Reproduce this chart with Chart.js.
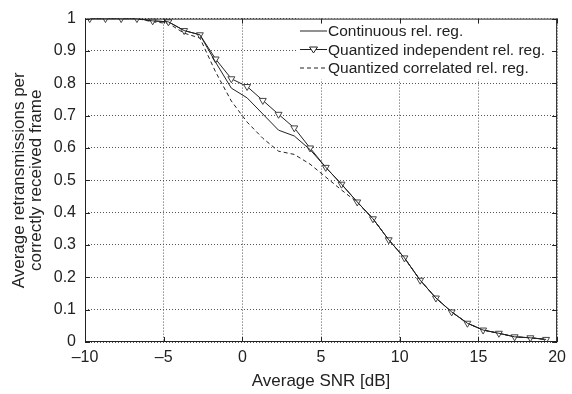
<!DOCTYPE html>
<html>
<head>
<meta charset="utf-8">
<script src="https://cdn.jsdelivr.net/npm/chart.js@4/dist/chart.umd.min.js"></script>
<style>
  body { margin: 0; background: #fff; }
  #wrap { width: 572px; height: 394px; }
</style>
</head>
<body>
<div id="wrap"><canvas id="chart" width="572" height="394"></canvas></div>
<script>
// SNR points [dB]
const snr = [-9.7, -8.7, -7.7, -6.7, -5.7, -4.7, -3.7, -2.7, -1.7, -0.7,
  0.3, 1.3, 2.3, 3.3, 4.3, 5.3, 6.3, 7.3, 8.3, 9.3,
  10.3, 11.3, 12.3, 13.3, 14.3, 15.3, 16.3, 17.3, 18.3, 19.3];

const continuous = [1, 1, 1, 1, 0.993, 0.99, 0.963, 0.95, 0.865, 0.785,
  0.755, 0.705, 0.655, 0.637, 0.595, 0.54, 0.488, 0.433, 0.381, 0.316,
  0.26, 0.191, 0.136, 0.093, 0.058, 0.037, 0.027, 0.016, 0.013, 0.008];

const quantIndep = [1, 1, 1, 1, 0.993, 0.99, 0.963, 0.95, 0.875, 0.814,
  0.79, 0.747, 0.704, 0.662, 0.6, 0.54, 0.488, 0.433, 0.381, 0.316,
  0.26, 0.191, 0.136, 0.093, 0.058, 0.037, 0.027, 0.016, 0.013, 0.008];

const quantCorr = [1, 1, 1, 1, 0.99, 0.985, 0.955, 0.94, 0.835, 0.745,
  0.68, 0.63, 0.59, 0.58, 0.55, 0.51, 0.47, 0.432, 0.381, 0.316,
  0.26, 0.191, 0.136, 0.093, 0.058, 0.037, 0.027, 0.016, 0.013, 0.008];

const seriesNames = ['Continuous rel. reg.', 'Quantized independent rel. reg.', 'Quantized correlated rel. reg.'];
const xTicks = [-10, -5, 0, 5, 10, 15, 20];
const yTicks = [0, 0.1, 0.2, 0.3, 0.4, 0.5, 0.6, 0.7, 0.8, 0.9, 1];

const FONT = '"Liberation Sans", Arial, sans-serif';
const INK = '#222';

function pts(ys) { return snr.map((x, i) => ({x: x, y: ys[i]})); }

// legend box, frame and inward tick marks (matlab style)
const framePlugin = {
  id: 'frame',
  afterDatasetsDraw(chart) {
    const {ctx, chartArea: a, scales} = chart;
    ctx.save();
    // legend
    const lx = 298, ly = a.top, lw = a.right - lx, lh = 61;
    ctx.fillStyle = '#fff';
    ctx.fillRect(lx, ly, lw, lh);
    ctx.font = '15.5px ' + FONT;
    ctx.textBaseline = 'middle';
    const rows = [31, 49.5, 68];
    const styles = [[], [], [4, 3]];
    rows.forEach((ry, i) => {
      ctx.strokeStyle = INK;
      ctx.lineWidth = 1;
      ctx.setLineDash(styles[i]);
      ctx.beginPath();
      ctx.moveTo(300, ry);
      ctx.lineTo(327, ry);
      ctx.stroke();
      ctx.setLineDash([]);
      if (i === 1) {
        ctx.fillStyle = '#fff';
        ctx.beginPath();
        ctx.moveTo(309.5, ry - 2.5);
        ctx.lineTo(317.5, ry - 2.5);
        ctx.lineTo(313.5, ry + 3.5);
        ctx.closePath();
        ctx.fill();
        ctx.stroke();
      }
      ctx.fillStyle = INK;
      ctx.fillText(seriesNames[i], 328, ry + 1);
    });
    // frame
    ctx.strokeStyle = INK;
    ctx.lineWidth = 1;
    ctx.strokeRect(a.left + 0.5, a.top + 0.5, a.right - a.left - 1, a.bottom - a.top - 1);
    // ticks
    const t = 5;
    ctx.beginPath();
    xTicks.forEach(v => {
      const px = Math.round(scales.x.getPixelForValue(v)) + 0.5;
      ctx.moveTo(px, a.bottom); ctx.lineTo(px, a.bottom - t);
      ctx.moveTo(px, a.top); ctx.lineTo(px, a.top + t);
    });
    yTicks.forEach(v => {
      const py = Math.round(scales.y.getPixelForValue(v)) + 0.5;
      ctx.moveTo(a.left, py); ctx.lineTo(a.left + t, py);
      ctx.moveTo(a.right, py); ctx.lineTo(a.right - t, py);
    });
    ctx.stroke();
    ctx.restore();
  }
};

new Chart(document.getElementById('chart'), {
  type: 'line',
  data: {
    datasets: [
      {
        label: seriesNames[0],
        data: pts(continuous),
        borderColor: INK,
        borderWidth: 1,
        pointRadius: 0,
        tension: 0
      },
      {
        label: seriesNames[1],
        data: pts(quantIndep),
        borderColor: INK,
        borderWidth: 1,
        pointStyle: 'triangle',
        pointRotation: 180,
        pointRadius: 4,
        pointBorderWidth: 1,
        pointBorderColor: '#444',
        pointBackgroundColor: '#fff',
        tension: 0
      },
      {
        label: seriesNames[2],
        data: pts(quantCorr),
        borderColor: INK,
        borderWidth: 1,
        borderDash: [4, 3],
        pointRadius: 0,
        tension: 0
      }
    ]
  },
  options: {
    responsive: false,
    animation: false,
    layout: { padding: { left: 0, right: 12, top: 17, bottom: 0 } },
    plugins: {
      legend: { display: false },
      tooltip: { enabled: false }
    },
    scales: {
      x: {
        type: 'linear',
        min: -10,
        max: 20,
        afterBuildTicks: s => { s.ticks = xTicks.map(v => ({value: v})); },
        afterFit: s => { s.height = 52; },
        grid: { color: '#555', drawTicks: false, lineWidth: 1 },
        border: { display: false, dash: [1, 2] },
        ticks: {
          color: INK,
          padding: 6,
          font: { family: FONT, size: 16 },
          callback: v => String(v).replace('-', '\u2013')
        },
        title: {
          display: true,
          text: 'Average SNR [dB]',
          color: INK,
          padding: { top: 0, bottom: 2 },
          font: { family: FONT, size: 17 }
        }
      },
      y: {
        min: 0,
        max: 1,
        afterBuildTicks: s => { s.ticks = yTicks.map(v => ({value: v})); },
        afterFit: s => { s.width = 85; },
        grid: { color: '#555', drawTicks: false, lineWidth: 1 },
        border: { display: false, dash: [1, 2] },
        ticks: {
          color: INK,
          padding: 9,
          font: { family: FONT, size: 16 },
          callback: v => String(Math.round(v * 10) / 10)
        },
        title: {
          display: true,
          text: ['Average retransmissions per', 'correctly received frame'],
          color: INK,
          padding: { top: 11, bottom: 0 },
          font: { family: FONT, size: 17, lineHeight: 1.0 }
        }
      }
    }
  },
  plugins: [framePlugin]
});
</script>
</body>
</html>
